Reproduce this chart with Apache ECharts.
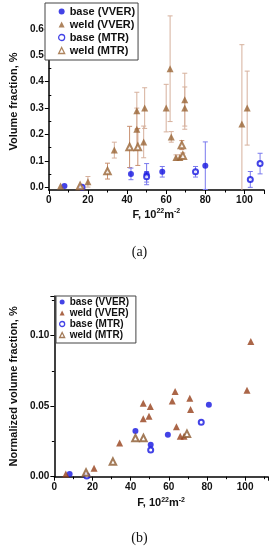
<!DOCTYPE html>
<html><head><meta charset="utf-8">
<script src="https://cdn.jsdelivr.net/npm/echarts@6/dist/echarts.min.js"></script>
<style>html,body{margin:0;padding:0;background:#fff}#c{width:279px;height:550px}</style>
</head><body><div id="c"></div>
<script>
// ---------- Panel (a): volume fraction with error bars ----------
const aBaseVVER_x = [8, 42, 50, 58, 80];
const aBaseVVER_y = [0.005, 0.051, 0.050, 0.059, 0.082];
const aBaseVVER_err = [0, 0.022, 0.04, 0.02, 0.09];

const aWeldVVER_x = [6, 20, 33.5, 45, 45, 48.5, 49, 60, 62, 62.6, 65, 67, 69.5, 69.5, 98.7, 101.4];
const aWeldVVER_y = [0.005, 0.021, 0.141, 0.22, 0.29, 0.172, 0.30, 0.30, 0.449, 0.191, 0.113, 0.113, 0.30, 0.332, 0.24, 0.30];
const aWeldVVER_err = [0, 0.02, 0.03, 0.08, 0.07, 0.06, 0.077, 0.09, 0.2, 0.02, 0.01, 0.01, 0.08, 0.1, 0.3, 0.14];

const aBaseMTR_x = [17, 50, 75, 103, 108];
const aBaseMTR_y = [0.0, 0.04, 0.059, 0.03, 0.09];
const aBaseMTR_err = [0, 0.02, 0.02, 0.03, 0.039];

const aWeldMTR_x = [16, 30, 41.3, 45.5, 68, 68.5];
const aWeldMTR_y = [0.005, 0.0615, 0.153, 0.153, 0.16, 0.12];
const aWeldMTR_err = [0, 0.03, 0.078, 0.07, 0.017, 0.01];

const aYTicks = [0, 0.1, 0.2, 0.3, 0.4, 0.5, 0.6];
const aYMinorTicks = [0.05, 0.15, 0.25, 0.35, 0.45, 0.55, 0.65];

// ---------- Panel (b): normalized volume fraction ----------
const bBaseVVER_x = [8, 42.5, 50.5, 59.5, 81];
const bBaseVVER_y = [0.002, 0.0324, 0.0226, 0.0298, 0.051];

const bWeldVVER_x = [6, 20.8, 34.2, 46.6, 50.3, 46.6, 49.6, 63.3, 61.8, 71, 71.4, 64, 66, 68, 103, 101];
const bWeldVVER_y = [0.002, 0.006, 0.0238, 0.052, 0.0498, 0.041, 0.0429, 0.0603, 0.0536, 0.0555, 0.0476, 0.0353, 0.0286, 0.0286, 0.0957, 0.0612];

const bBaseMTR_x = [17, 50.5, 77];
const bBaseMTR_y = [0.0005, 0.019, 0.0386];

const bWeldMTR_x = [16.6, 30.7, 42.5, 46.7, 69.5];
const bWeldMTR_y = [0.003, 0.0107, 0.0274, 0.0274, 0.0305];

const names = ['base (VVER)', 'weld (VVER)', 'base (MTR)', 'weld (MTR)'];
const legendIcons = ['circle', 'triangle', 'circle', 'triangle'];

// ---------- helpers ----------
const zip = (xs, ys) => xs.map((x, i) => [x, ys[i]]);
const zip3 = (xs, ys, es) => xs.map((x, i) => [x, ys[i], es[i]]);

const BLUE = '#1414e0';
const BROWN_A = '#9a6536';
const BROWN_B = '#96401a';
const BROWN_B_OPEN = '#8c5a30';

function errSeries(data, color, gridIdx) {
  return {
    type: 'custom', xAxisIndex: gridIdx, yAxisIndex: gridIdx * 2, z: 1, silent: true,
    renderItem: function (params, api) {
      const x = api.value(0), y = api.value(1), e = api.value(2);
      if (!e) return null;
      const lo = Math.max(y - e, -0.01);
      const hi = y + e;
      const pHi = api.coord([x, hi]);
      const pLo = api.coord([x, lo]);
      const cw = 2.5;
      const style = { stroke: color, lineWidth: 1 };
      const kids = [
        { type: 'line', shape: { x1: pHi[0], y1: pHi[1], x2: pLo[0], y2: pLo[1] }, style: style },
        { type: 'line', shape: { x1: pHi[0] - cw, y1: pHi[1], x2: pHi[0] + cw, y2: pHi[1] }, style: style }
      ];
      if (y - e > -0.01) kids.push({ type: 'line', shape: { x1: pLo[0] - cw, y1: pLo[1], x2: pLo[0] + cw, y2: pLo[1] }, style: style });
      return { type: 'group', children: kids };
    },
    data: data
  };
}

const tickFont = { fontFamily: 'Liberation Sans, Arial, sans-serif', fontWeight: 'bold', fontSize: 10, color: '#111' };
const nameFont = {
  fontFamily: 'Liberation Sans, Arial, sans-serif', fontWeight: 'bold', fontSize: 11, color: '#111',
  rich: { s: { fontFamily: 'Liberation Sans, Arial, sans-serif', fontWeight: 'bold', fontSize: 7, color: '#111', verticalAlign: 'bottom', padding: [0, 0, 6, 0] },
          n: { fontFamily: 'Liberation Sans, Arial, sans-serif', fontWeight: 'bold', fontSize: 11, color: '#111' } }
};
const axLine = { show: true, onZero: false, lineStyle: { color: '#000', width: 1.5 } };

function legendData(suffix, colors) {
  return names.map((n, i) => ({
    name: n + suffix, icon: legendIcons[i],
    itemStyle: i >= 2 ? { color: '#fff', borderColor: colors[i], borderWidth: 1.3 } : { color: colors[i], borderWidth: 0 }
  }));
}

const chart = echarts.init(document.getElementById('c'), null, { renderer: 'canvas' });
chart.setOption({
  animation: false,
  backgroundColor: '#fff',
  grid: [
    { left: 44.7, right: 15, top: 13, bottom: 360 },
    { left: 45.5, right: 11, top: 296, bottom: 73.3 }
  ],
  xAxis: [
    { gridIndex: 0, type: 'value', min: 0, max: 110, interval: 20,
      name: '{n|F, 10}{s|22}{n|m}{s|-2}', nameLocation: 'middle', nameGap: 18, nameTextStyle: nameFont,
      axisLine: axLine, axisTick: { show: true, length: 4, lineStyle: { color: '#000', width: 1 } },
      minorTick: { show: true, splitNumber: 2, length: 2.5, lineStyle: { color: '#000', width: 1 } },
      axisLabel: Object.assign({ margin: 5, showMaxLabel: false }, tickFont), splitLine: { show: false } },
    { gridIndex: 1, type: 'value', min: 0, max: 112, interval: 20,
      name: '{n|F, 10}{s|22}{n|m}{s|-2}', nameLocation: 'middle', nameGap: 20, nameTextStyle: nameFont,
      axisLine: axLine, axisTick: { show: true, length: 4, lineStyle: { color: '#000', width: 1 } },
      minorTick: { show: true, splitNumber: 2, length: 2.5, lineStyle: { color: '#000', width: 1 } },
      axisLabel: Object.assign({ margin: 6, showMaxLabel: false }, tickFont), splitLine: { show: false } }
  ],
  yAxis: [
    { gridIndex: 0, type: 'value', min: -0.01, max: 0.66,
      name: 'Volume fraction, %', nameLocation: 'middle', nameGap: 16, nameTextStyle: nameFont,
      axisLine: axLine,
      axisTick: { show: true, length: 4, customValues: aYTicks, lineStyle: { color: '#000', width: 1 } },
      axisLabel: Object.assign({ margin: 5, customValues: aYTicks, formatter: v => v.toFixed(1) }, tickFont),
      splitLine: { show: false } },
    { gridIndex: 0, type: 'value', min: -0.01, max: 0.66,
      axisLine: { show: false },
      axisTick: { show: true, length: 2.5, customValues: aYMinorTicks, lineStyle: { color: '#000', width: 1 } },
      axisLabel: { show: false }, splitLine: { show: false } },
    { gridIndex: 1, type: 'value', min: 0, max: 0.128, interval: 0.05,
      name: 'Normalized volume fraction, %', nameLocation: 'middle', nameGap: 24, nameTextStyle: nameFont,
      axisLine: axLine,
      axisTick: { show: true, length: 4, lineStyle: { color: '#000', width: 1 } },
      minorTick: { show: true, splitNumber: 2, length: 2.5, lineStyle: { color: '#000', width: 1 } },
      axisLabel: Object.assign({ margin: 5, showMaxLabel: false, formatter: v => v.toFixed(2) }, tickFont),
      splitLine: { show: false } }
  ],
  legend: [
    { data: legendData('', [BLUE, BROWN_A, BLUE, BROWN_A]), orient: 'vertical', left: 45, top: 3,
      itemWidth: 6, itemHeight: 6, itemGap: 2, itemTextGap: 11,
      padding: [3, 3, 4, 13],
      borderColor: '#444', borderWidth: 1, backgroundColor: '#fff',
      textStyle: { fontFamily: 'Liberation Sans, Arial, sans-serif', fontWeight: 'bold', fontSize: 11, color: '#111' } },
    { data: legendData(' ', [BLUE, BROWN_B, BLUE, BROWN_B_OPEN]), orient: 'vertical', left: 56, top: 296,
      itemWidth: 5, itemHeight: 5, itemGap: 1, itemTextGap: 8,
      padding: [1, 4, 3, 3],
      borderColor: '#444', borderWidth: 1, backgroundColor: '#fff',
      textStyle: { fontFamily: 'Liberation Sans, Arial, sans-serif', fontWeight: 'bold', fontSize: 10, color: '#111' } }
  ],
  graphic: [
    { type: 'text', left: 'center', top: 245, style: { text: '(a)', font: '14px "Liberation Serif", serif', fill: '#111' } },
    { type: 'text', left: 'center', top: 531, style: { text: '(b)', font: '14px "Liberation Serif", serif', fill: '#111' } }
  ],
  series: [
    errSeries(zip3(aWeldVVER_x, aWeldVVER_y, aWeldVVER_err), '#d6b09c', 0),
    errSeries(zip3(aWeldMTR_x, aWeldMTR_y, aWeldMTR_err), '#c89070', 0),
    errSeries(zip3(aBaseVVER_x, aBaseVVER_y, aBaseVVER_err), '#7a7aee', 0),
    errSeries(zip3(aBaseMTR_x, aBaseMTR_y, aBaseMTR_err), '#7a7aee', 0),
    { name: names[0], type: 'scatter', xAxisIndex: 0, yAxisIndex: 0, symbol: 'circle', symbolSize: 6, z: 3,
      itemStyle: { color: BLUE }, data: zip(aBaseVVER_x, aBaseVVER_y) },
    { name: names[1], type: 'scatter', xAxisIndex: 0, yAxisIndex: 0, symbol: 'triangle', symbolSize: 7, z: 3,
      itemStyle: { color: BROWN_A }, data: zip(aWeldVVER_x, aWeldVVER_y) },
    { name: names[2], type: 'scatter', xAxisIndex: 0, yAxisIndex: 0, symbol: 'emptyCircle', symbolSize: 5, z: 3,
      itemStyle: { color: BLUE, borderWidth: 1.5 }, data: zip(aBaseMTR_x, aBaseMTR_y) },
    { name: names[3], type: 'scatter', xAxisIndex: 0, yAxisIndex: 0, symbol: 'emptyTriangle', symbolSize: 6.5, z: 3,
      itemStyle: { color: BROWN_A, borderWidth: 1.3 }, data: zip(aWeldMTR_x, aWeldMTR_y) },

    { name: names[0] + ' ', type: 'scatter', xAxisIndex: 1, yAxisIndex: 2, symbol: 'circle', symbolSize: 6, z: 3,
      itemStyle: { color: BLUE }, data: zip(bBaseVVER_x, bBaseVVER_y) },
    { name: names[1] + ' ', type: 'scatter', xAxisIndex: 1, yAxisIndex: 2, symbol: 'triangle', symbolSize: 7, z: 3,
      itemStyle: { color: BROWN_B }, data: zip(bWeldVVER_x, bWeldVVER_y) },
    { name: names[2] + ' ', type: 'scatter', xAxisIndex: 1, yAxisIndex: 2, symbol: 'emptyCircle', symbolSize: 5, z: 3,
      itemStyle: { color: BLUE, borderWidth: 1.5 }, data: zip(bBaseMTR_x, bBaseMTR_y) },
    { name: names[3] + ' ', type: 'scatter', xAxisIndex: 1, yAxisIndex: 2, symbol: 'emptyTriangle', symbolSize: 6.5, z: 3,
      itemStyle: { color: BROWN_B_OPEN, borderWidth: 1.3 }, data: zip(bWeldMTR_x, bWeldMTR_y) }
  ]
});
</script>
</body></html>
